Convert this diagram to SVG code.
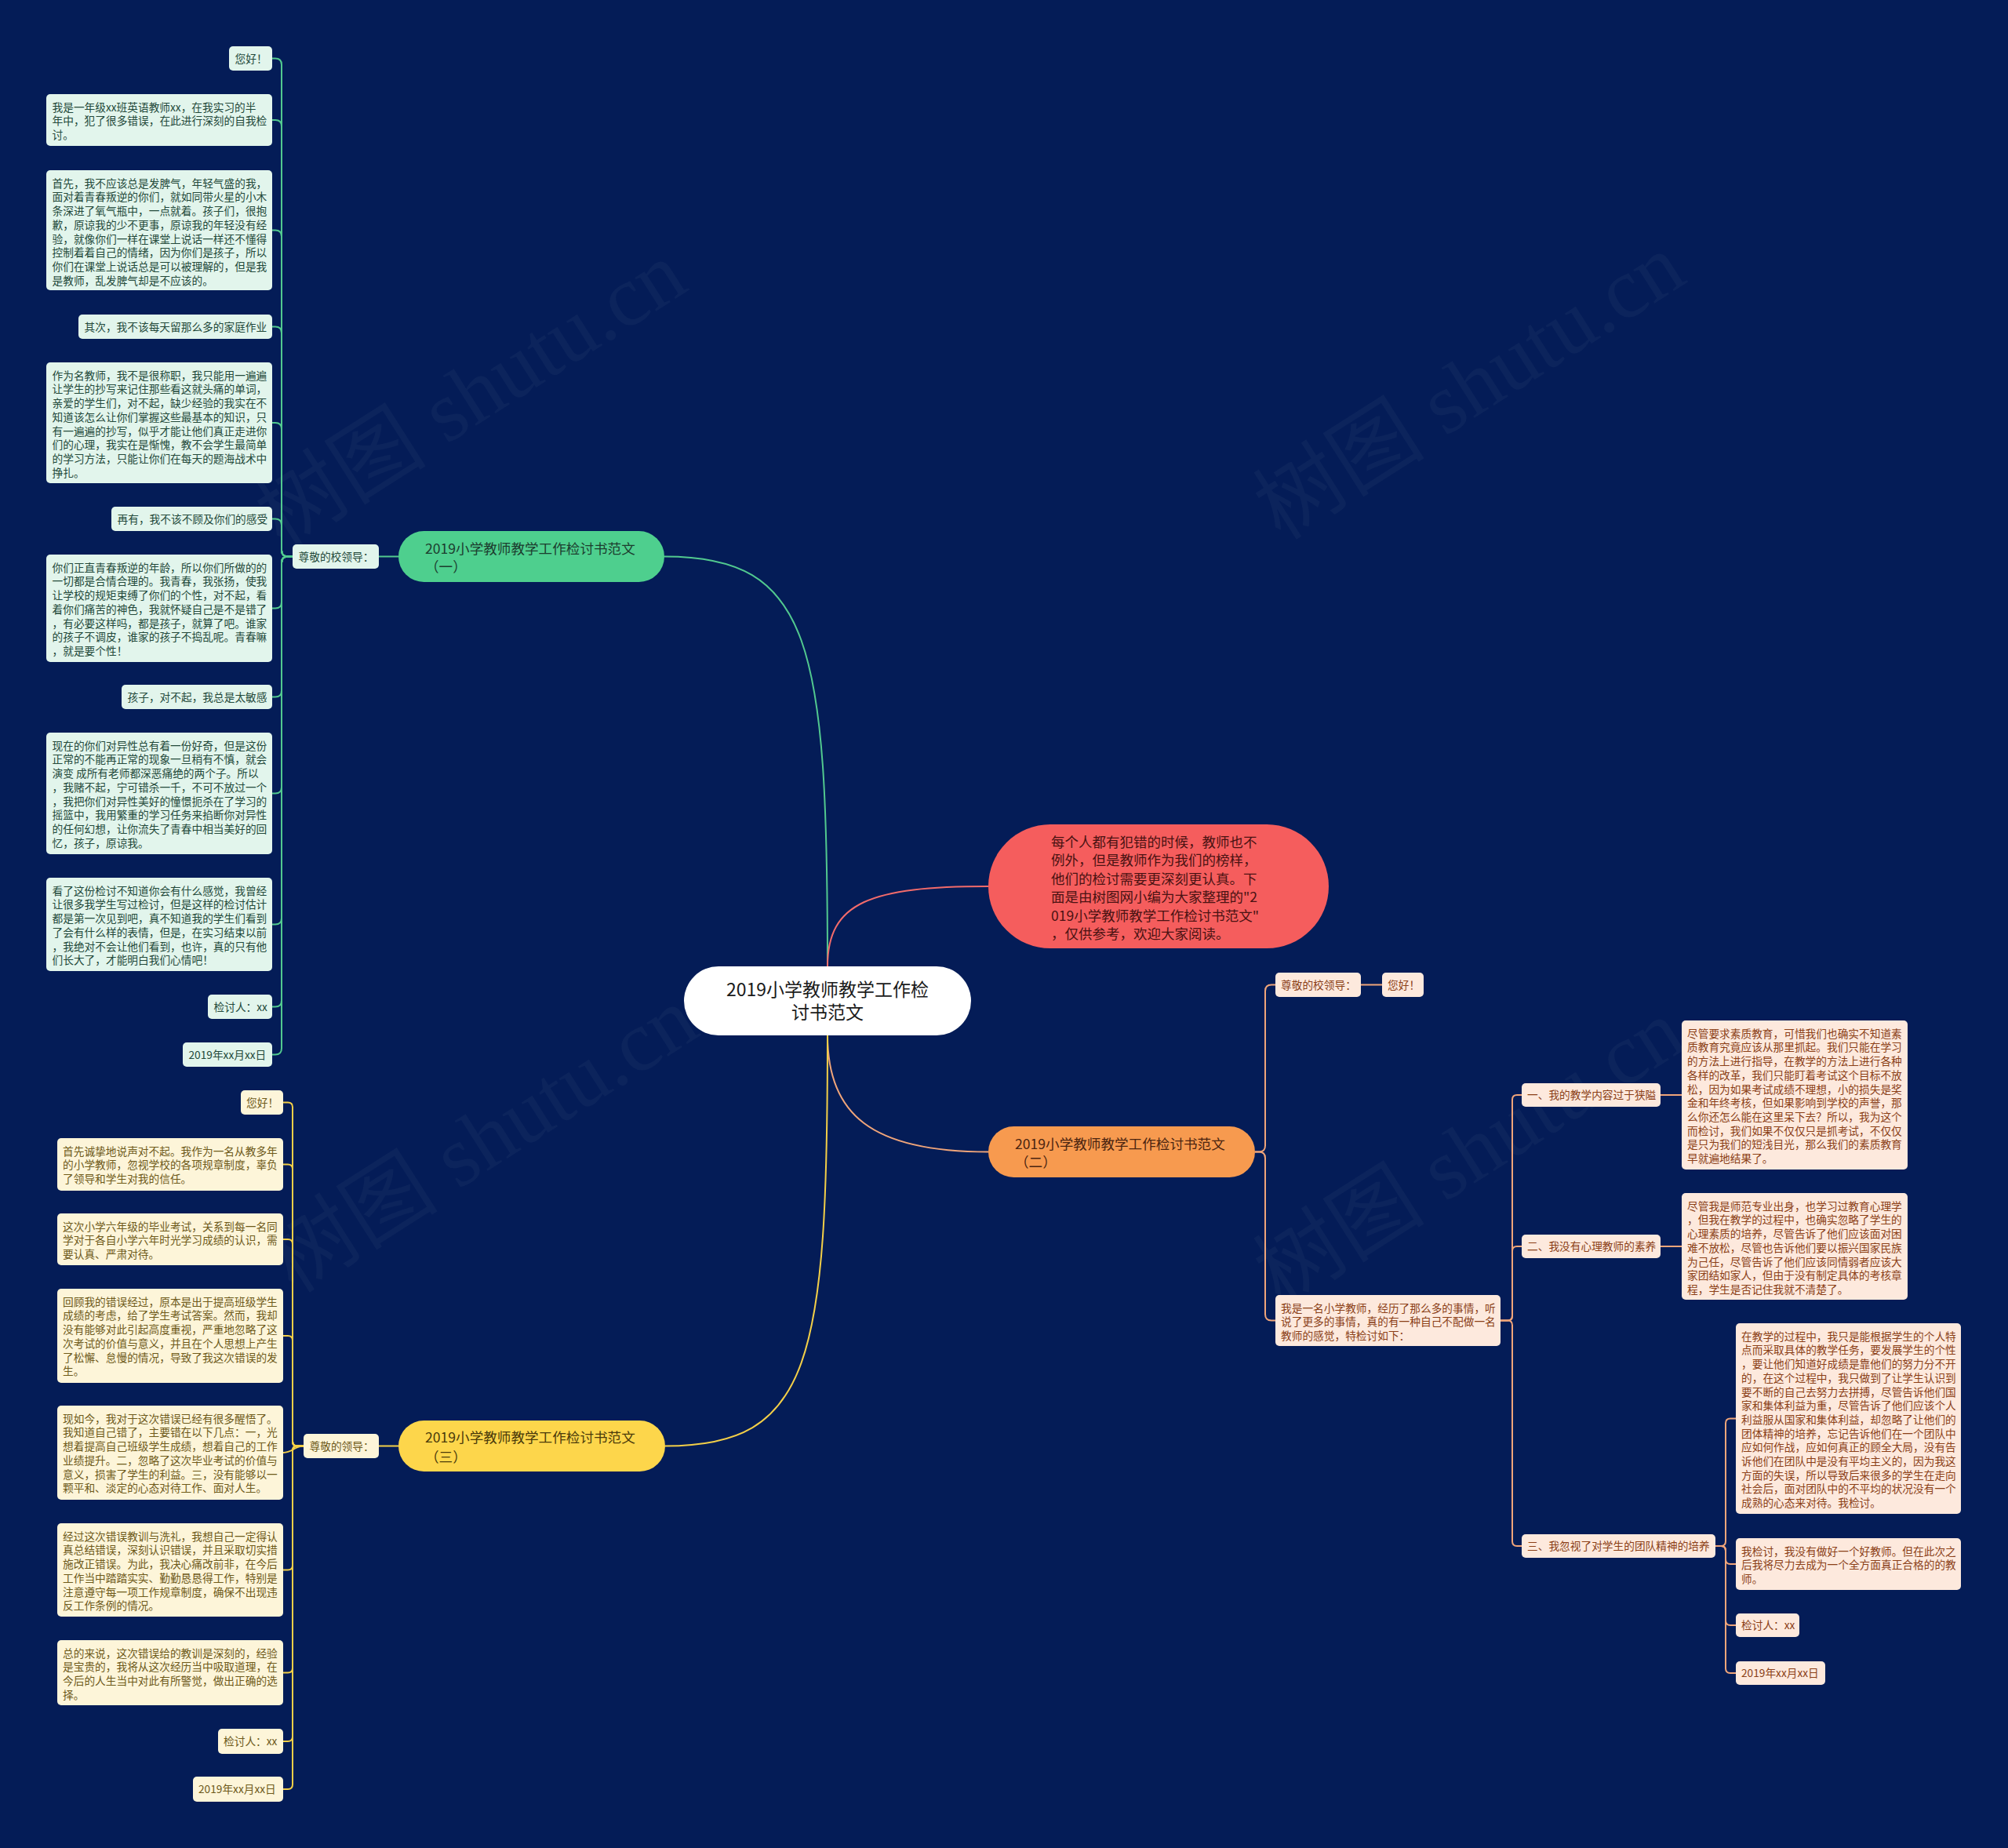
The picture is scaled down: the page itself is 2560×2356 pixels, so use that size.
<svg xmlns="http://www.w3.org/2000/svg" width="2560" height="2356" viewBox="0 0 2560 2356">
<style>
text{font-family:"Noto Sans CJK SC","Noto Sans",sans-serif}
.lt{font-size:13.7px}
.cg,.cy,.co,.cr{fill:none;stroke-width:2}
.cg{stroke:#52c98f}.cy{stroke:#f3cf48}.co{stroke:#f0a57a}.cr{stroke:#f26b6b}
.gl{fill:#e2f5ec}.gt{fill:#23493a}
.yl{fill:#fdf5d9}.yt{fill:#6e5a1a}
.ol{fill:#fde9dd}.ot{fill:#8b3f17}
.wm{font-family:"Liberation Serif","Noto Sans CJK SC",serif;font-size:110px;fill:#ffffff;fill-opacity:0.035}
.mt{font-size:17.6px}
</style>
<rect width="2560" height="2356" fill="#041c57"/>
<g id="watermarks">
<text class="wm" x="360" y="700" transform="rotate(-32.5 360 700)">树图 shutu.cn</text>
<text class="wm" x="375" y="1650" transform="rotate(-32.5 375 1650)">树图 shutu.cn</text>
<text class="wm" x="1633" y="690" transform="rotate(-32.5 1633 690)">树图 shutu.cn</text>
<text class="wm" x="1633" y="1666" transform="rotate(-32.5 1633 1666)">树图 shutu.cn</text>
</g>
<g id="connectors">
<path class="cg" d="M1055,1232 C1055,820 1035,709.5 847,709.5"/>
<path class="cr" d="M1055,1232 C1055,1150 1110,1130 1260,1130"/>
<path class="co" d="M1055,1320 C1055,1420 1110,1468.5 1260,1468.5"/>
<path class="cy" d="M1055,1320 C1055,1735 1035,1843.5 848,1843.5"/>
<path class="cg" d="M508,709.5 H483"/>
<path class="cg" d="M373,709.5 H367 Q359,709.5 359,701.5 V82.5 Q359,74.5 351,74.5 H347"/>
<path class="cg" d="M373,709.5 H367 Q359,709.5 359,701.5 V161 Q359,153 351,153 H347"/>
<path class="cg" d="M373,709.5 H367 Q359,709.5 359,701.5 V301.5 Q359,293.5 351,293.5 H347"/>
<path class="cg" d="M373,709.5 H367 Q359,709.5 359,701.5 V424.5 Q359,416.5 351,416.5 H347"/>
<path class="cg" d="M373,709.5 H367 Q359,709.5 359,701.5 V547 Q359,539 351,539 H347"/>
<path class="cg" d="M373,709.5 H367 Q359,709.5 359,701.5 V669.5 Q359,661.5 351,661.5 H347"/>
<path class="cg" d="M373,709.5 H367 Q359,709.5 359,717.5 V767.5 Q359,775.5 351,775.5 H347"/>
<path class="cg" d="M373,709.5 H367 Q359,709.5 359,717.5 V880.5 Q359,888.5 351,888.5 H347"/>
<path class="cg" d="M373,709.5 H367 Q359,709.5 359,717.5 V1003.5 Q359,1011.5 351,1011.5 H347"/>
<path class="cg" d="M373,709.5 H367 Q359,709.5 359,717.5 V1170.5 Q359,1178.5 351,1178.5 H347"/>
<path class="cg" d="M373,709.5 H367 Q359,709.5 359,717.5 V1275.5 Q359,1283.5 351,1283.5 H347"/>
<path class="cg" d="M373,709.5 H367 Q359,709.5 359,717.5 V1336.5 Q359,1344.5 351,1344.5 H347"/>
<path class="cy" d="M508,1843.5 H483"/>
<path class="cy" d="M387,1843.5 H379 Q373,1843.5 373,1837.5 V1411.5 Q373,1405.5 367,1405.5 H361"/>
<path class="cy" d="M387,1843.5 H379 Q373,1843.5 373,1837.5 V1490.5 Q373,1484.5 367,1484.5 H361"/>
<path class="cy" d="M387,1843.5 H379 Q373,1843.5 373,1837.5 V1586 Q373,1580 367,1580 H361"/>
<path class="cy" d="M387,1843.5 H379 Q373,1843.5 373,1837.5 V1709 Q373,1703 367,1703 H361"/>
<path class="cy" d="M387,1843.5 C375,1843.5 373,1852 361,1852"/>
<path class="cy" d="M387,1843.5 H379 Q373,1843.5 373,1849.5 V1995.5 Q373,2001.5 367,2001.5 H361"/>
<path class="cy" d="M387,1843.5 H379 Q373,1843.5 373,1849.5 V2126.5 Q373,2132.5 367,2132.5 H361"/>
<path class="cy" d="M387,1843.5 H379 Q373,1843.5 373,1849.5 V2214 Q373,2220 367,2220 H361"/>
<path class="cy" d="M387,1843.5 H379 Q373,1843.5 373,1849.5 V2275 Q373,2281 367,2281 H361"/>
<path class="co" d="M1600,1468.5 H1605 Q1613,1468.5 1613,1460.5 V1263.5 Q1613,1255.5 1621,1255.5 H1626"/>
<path class="co" d="M1600,1468.5 H1605 Q1613,1468.5 1613,1476.5 V1675.5 Q1613,1683.5 1621,1683.5 H1626"/>
<path class="co" d="M1735,1255.5 H1762"/>
<path class="co" d="M1913,1683.5 H1922 Q1928,1683.5 1928,1677.5 V1402 Q1928,1396 1934,1396 H1940"/>
<path class="co" d="M1913,1683.5 H1922 Q1928,1683.5 1928,1677.5 V1595 Q1928,1589 1934,1589 H1940"/>
<path class="co" d="M1913,1683.5 H1922 Q1928,1683.5 1928,1689.5 V1965 Q1928,1971 1934,1971 H1940"/>
<path class="co" d="M2117,1396 H2144"/>
<path class="co" d="M2117,1589 H2144"/>
<path class="co" d="M2187,1971 H2194 Q2200,1971 2200,1965 V1814.5 Q2200,1808.5 2206,1808.5 H2213"/>
<path class="co" d="M2187,1971 H2194 Q2200,1971 2200,1977 V1988 Q2200,1994 2206,1994 H2213"/>
<path class="co" d="M2187,1971 H2194 Q2200,1971 2200,1977 V2066 Q2200,2072 2206,2072 H2213"/>
<path class="co" d="M2187,1971 H2194 Q2200,1971 2200,1977 V2127 Q2200,2133 2206,2133 H2213"/>
</g>
<g id="center">
<rect x="872" y="1232" width="366" height="88" rx="44" fill="#ffffff"/>
<text x="1055" y="1269.8" text-anchor="middle" font-size="23" fill="#1a1a1a">2019小学教师教学工作检<tspan x="1055" dy="29">讨书范文</tspan></text>
</g>
<g id="intro">
<rect x="1260" y="1051" width="434" height="158" rx="79" fill="#f55d5d"/>
<text x="1340" y="1079.6" font-size="17.5" fill="#4a1212"><tspan x="1340">每个人都有犯错的时候，教师也不</tspan><tspan x="1340" dy="23.5">例外，但是教师作为我们的榜样，</tspan><tspan x="1340" dy="23.5">他们的检讨需要更深刻更认真。下</tspan><tspan x="1340" dy="23.5">面是由树图网小编为大家整理的"2</tspan><tspan x="1340" dy="23.5">019小学教师教学工作检讨书范文"</tspan><tspan x="1340" dy="23.5">，仅供参考，欢迎大家阅读。</tspan></text>
</g>
<g id="branch1">
<rect x="508" y="677" width="339" height="65" rx="32.5" fill="#4ecf8e"/>
<text class="mt" x="542" y="705.7" fill="#1c3d2e"><tspan x="542">2019小学教师教学工作检讨书范文</tspan><tspan x="542" dy="23">（一）</tspan></text>
</g>
<g id="b1-greet"><rect class="gl" x="373" y="694" width="110" height="31" rx="5"/><text class="lt gt" x="380.5" y="714.7">尊敬的校领导：</text></g>
<g id="b1-l1"><rect class="gl" x="292" y="59" width="55" height="31" rx="5"/><text class="lt gt" x="299.5" y="79.7">您好！</text></g>
<g id="b1-l2"><rect class="gl" x="59" y="120" width="288" height="66" rx="5"/><text class="lt gt" x="66.5" y="141.7"><tspan x="66.5">我是一年级xx班英语教师xx，在我实习的半</tspan><tspan x="66.5" dy="17.7">年中，犯了很多错误，在此进行深刻的自我检</tspan><tspan x="66.5" dy="17.7">讨。</tspan></text></g>
<g id="b1-l3"><rect class="gl" x="59" y="217" width="288" height="153" rx="5"/><text class="lt gt" x="66.5" y="238.7"><tspan x="66.5">首先，我不应该总是发脾气，年轻气盛的我，</tspan><tspan x="66.5" dy="17.7">面对着青春叛逆的你们，就如同带火星的小木</tspan><tspan x="66.5" dy="17.7">条深进了氧气瓶中，一点就着。孩子们，很抱</tspan><tspan x="66.5" dy="17.7">歉，原谅我的少不更事，原谅我的年轻没有经</tspan><tspan x="66.5" dy="17.7">验，就像你们一样在课堂上说话一样还不懂得</tspan><tspan x="66.5" dy="17.7">控制着着自己的情绪，因为你们是孩子，所以</tspan><tspan x="66.5" dy="17.7">你们在课堂上说话总是可以被理解的，但是我</tspan><tspan x="66.5" dy="17.7">是教师，乱发脾气却是不应该的。</tspan></text></g>
<g id="b1-l4"><rect class="gl" x="100" y="401" width="247" height="31" rx="5"/><text class="lt gt" x="107.5" y="421.7">其次，我不该每天留那么多的家庭作业</text></g>
<g id="b1-l5"><rect class="gl" x="59" y="462" width="288" height="154" rx="5"/><text class="lt gt" x="66.5" y="483.7"><tspan x="66.5">作为名教师，我不是很称职，我只能用一遍遍</tspan><tspan x="66.5" dy="17.7">让学生的抄写来记住那些看这就头痛的单词，</tspan><tspan x="66.5" dy="17.7">亲爱的学生们，对不起，缺少经验的我实在不</tspan><tspan x="66.5" dy="17.7">知道该怎么让你们掌握这些最基本的知识，只</tspan><tspan x="66.5" dy="17.7">有一遍遍的抄写，似乎才能让他们真正走进你</tspan><tspan x="66.5" dy="17.7">们的心理，我实在是惭愧，教不会学生最简单</tspan><tspan x="66.5" dy="17.7">的学习方法，只能让你们在每天的题海战术中</tspan><tspan x="66.5" dy="17.7">挣扎。</tspan></text></g>
<g id="b1-l6"><rect class="gl" x="142" y="646" width="205" height="31" rx="5"/><text class="lt gt" x="149.5" y="666.7">再有，我不该不顾及你们的感受</text></g>
<g id="b1-l7"><rect class="gl" x="59" y="707" width="288" height="137" rx="5"/><text class="lt gt" x="66.5" y="728.7"><tspan x="66.5">你们正直青春叛逆的年龄，所以你们所做的的</tspan><tspan x="66.5" dy="17.7">一切都是合情合理的。我青春，我张扬，使我</tspan><tspan x="66.5" dy="17.7">让学校的规矩束缚了你们的个性，对不起，看</tspan><tspan x="66.5" dy="17.7">着你们痛苦的神色，我就怀疑自己是不是错了</tspan><tspan x="66.5" dy="17.7">，有必要这样吗，都是孩子，就算了吧。谁家</tspan><tspan x="66.5" dy="17.7">的孩子不调皮，谁家的孩子不捣乱呢。青春嘛</tspan><tspan x="66.5" dy="17.7">，就是要个性！</tspan></text></g>
<g id="b1-l8"><rect class="gl" x="155" y="873" width="192" height="31" rx="5"/><text class="lt gt" x="162.5" y="893.7">孩子，对不起，我总是太敏感</text></g>
<g id="b1-l9"><rect class="gl" x="59" y="934" width="288" height="155" rx="5"/><text class="lt gt" x="66.5" y="955.7"><tspan x="66.5">现在的你们对异性总有着一份好奇，但是这份</tspan><tspan x="66.5" dy="17.7">正常的不能再正常的现象一旦稍有不慎，就会</tspan><tspan x="66.5" dy="17.7">演变 成所有老师都深恶痛绝的两个子。所以</tspan><tspan x="66.5" dy="17.7">，我赌不起，宁可错杀一千，不可不放过一个</tspan><tspan x="66.5" dy="17.7">，我把你们对异性美好的憧憬扼杀在了学习的</tspan><tspan x="66.5" dy="17.7">摇篮中，我用繁重的学习任务来掐断你对异性</tspan><tspan x="66.5" dy="17.7">的任何幻想，让你流失了青春中相当美好的回</tspan><tspan x="66.5" dy="17.7">忆，孩子，原谅我。</tspan></text></g>
<g id="b1-l10"><rect class="gl" x="59" y="1119" width="288" height="119" rx="5"/><text class="lt gt" x="66.5" y="1140.7"><tspan x="66.5">看了这份检讨不知道你会有什么感觉，我曾经</tspan><tspan x="66.5" dy="17.7">让很多我学生写过检讨，但是这样的检讨估计</tspan><tspan x="66.5" dy="17.7">都是第一次见到吧，真不知道我的学生们看到</tspan><tspan x="66.5" dy="17.7">了会有什么样的表情，但是，在实习结束以前</tspan><tspan x="66.5" dy="17.7">，我绝对不会让他们看到，也许，真的只有他</tspan><tspan x="66.5" dy="17.7">们长大了，才能明白我们心情吧！</tspan></text></g>
<g id="b1-l11"><rect class="gl" x="265" y="1268" width="82" height="31" rx="5"/><text class="lt gt" x="272.5" y="1288.7">检讨人：xx</text></g>
<g id="b1-l12"><rect class="gl" x="233" y="1329" width="114" height="31" rx="5"/><text class="lt gt" x="240.5" y="1349.7">2019年xx月xx日</text></g>
<g id="branch3">
<rect x="508" y="1811" width="340" height="65" rx="32.5" fill="#fdd64b"/>
<text class="mt" x="542" y="1838.7" fill="#4a3a0a"><tspan x="542">2019小学教师教学工作检讨书范文</tspan><tspan x="542" dy="25">（三）</tspan></text>
</g>
<g id="b3-greet"><rect class="yl" x="387" y="1828" width="96" height="31" rx="5"/><text class="lt yt" x="394.5" y="1848.7">尊敬的领导：</text></g>
<g id="b3-l1"><rect class="yl" x="307" y="1390" width="54" height="31" rx="5"/><text class="lt yt" x="314" y="1410.7">您好！</text></g>
<g id="b3-l2"><rect class="yl" x="73" y="1451" width="288" height="67" rx="5"/><text class="lt yt" x="80" y="1472.7"><tspan x="80">首先诚挚地说声对不起。我作为一名从教多年</tspan><tspan x="80" dy="17.7">的小学教师，忽视学校的各项规章制度，辜负</tspan><tspan x="80" dy="17.7">了领导和学生对我的信任。</tspan></text></g>
<g id="b3-l3"><rect class="yl" x="73" y="1547" width="288" height="66" rx="5"/><text class="lt yt" x="80" y="1568.7"><tspan x="80">这次小学六年级的毕业考试，关系到每一名同</tspan><tspan x="80" dy="17.7">学对于各自小学六年时光学习成绩的认识，需</tspan><tspan x="80" dy="17.7">要认真、严肃对待。</tspan></text></g>
<g id="b3-l4"><rect class="yl" x="73" y="1643" width="288" height="120" rx="5"/><text class="lt yt" x="80" y="1664.7"><tspan x="80">回顾我的错误经过，原本是出于提高班级学生</tspan><tspan x="80" dy="17.7">成绩的考虑，给了学生考试答案。然而，我却</tspan><tspan x="80" dy="17.7">没有能够对此引起高度重视，严重地忽略了这</tspan><tspan x="80" dy="17.7">次考试的价值与意义，并且在个人思想上产生</tspan><tspan x="80" dy="17.7">了松懈、怠慢的情况，导致了我这次错误的发</tspan><tspan x="80" dy="17.7">生。</tspan></text></g>
<g id="b3-l5"><rect class="yl" x="73" y="1792" width="288" height="120" rx="5"/><text class="lt yt" x="80" y="1813.7"><tspan x="80">现如今，我对于这次错误已经有很多醒悟了。</tspan><tspan x="80" dy="17.7">我知道自己错了，主要错在以下几点：一，光</tspan><tspan x="80" dy="17.7">想着提高自己班级学生成绩，想着自己的工作</tspan><tspan x="80" dy="17.7">业绩提升。二，忽略了这次毕业考试的价值与</tspan><tspan x="80" dy="17.7">意义，损害了学生的利益。三，没有能够以一</tspan><tspan x="80" dy="17.7">颗平和、淡定的心态对待工作、面对人生。</tspan></text></g>
<g id="b3-l6"><rect class="yl" x="73" y="1942" width="288" height="119" rx="5"/><text class="lt yt" x="80" y="1963.7"><tspan x="80">经过这次错误教训与洗礼，我想自己一定得认</tspan><tspan x="80" dy="17.7">真总结错误，深刻认识错误，并且采取切实措</tspan><tspan x="80" dy="17.7">施改正错误。为此，我决心痛改前非，在今后</tspan><tspan x="80" dy="17.7">工作当中踏踏实实、勤勤恳恳得工作，特别是</tspan><tspan x="80" dy="17.7">注意遵守每一项工作规章制度，确保不出现违</tspan><tspan x="80" dy="17.7">反工作条例的情况。</tspan></text></g>
<g id="b3-l7"><rect class="yl" x="73" y="2091" width="288" height="83" rx="5"/><text class="lt yt" x="80" y="2112.7"><tspan x="80">总的来说，这次错误给的教训是深刻的，经验</tspan><tspan x="80" dy="17.7">是宝贵的，我将从这次经历当中吸取道理，在</tspan><tspan x="80" dy="17.7">今后的人生当中对此有所警觉，做出正确的选</tspan><tspan x="80" dy="17.7">择。</tspan></text></g>
<g id="b3-l8"><rect class="yl" x="278" y="2204" width="83" height="32" rx="5"/><text class="lt yt" x="285" y="2225.2">检讨人：xx</text></g>
<g id="b3-l9"><rect class="yl" x="246" y="2265" width="115" height="32" rx="5"/><text class="lt yt" x="253" y="2286.2">2019年xx月xx日</text></g>
<g id="branch2">
<rect x="1260" y="1436" width="340" height="65" rx="32.5" fill="#f79a4f"/>
<text class="mt" x="1294" y="1464.7" fill="#4a2410"><tspan x="1294">2019小学教师教学工作检讨书范文</tspan><tspan x="1294" dy="23">（二）</tspan></text>
</g>
<g id="b2-greet"><rect class="ol" x="1626" y="1240" width="109" height="31" rx="5"/><text class="lt ot" x="1633" y="1260.7">尊敬的校领导：</text></g>
<g id="b2-hello"><rect class="ol" x="1762" y="1240" width="53" height="31" rx="5"/><text class="lt ot" x="1769" y="1260.7">您好！</text></g>
<g id="b2-intro"><rect class="ol" x="1626" y="1651" width="287" height="65" rx="5"/><text class="lt ot" x="1633" y="1672.7"><tspan x="1633">我是一名小学教师，经历了那么多的事情，听</tspan><tspan x="1633" dy="17.7">说了更多的事情，真的有一种自己不配做一名</tspan><tspan x="1633" dy="17.7">教师的感觉，特检讨如下：</tspan></text></g>
<g id="b2-p1"><rect class="ol" x="1940" y="1381" width="177" height="30" rx="5"/><text class="lt ot" x="1947" y="1401.2">一、我的教学内容过于狭隘</text></g>
<g id="b2-p1c"><rect class="ol" x="2144" y="1301" width="288" height="190" rx="5"/><text class="lt ot" x="2151" y="1322.7"><tspan x="2151">尽管要求素质教育，可惜我们也确实不知道素</tspan><tspan x="2151" dy="17.7">质教育究竟应该从那里抓起。我们只能在学习</tspan><tspan x="2151" dy="17.7">的方法上进行指导，在教学的方法上进行各种</tspan><tspan x="2151" dy="17.7">各样的改革，我们只能盯着考试这个目标不放</tspan><tspan x="2151" dy="17.7">松，因为如果考试成绩不理想，小的损失是奖</tspan><tspan x="2151" dy="17.7">金和年终考核，但如果影响到学校的声誉，那</tspan><tspan x="2151" dy="17.7">么你还怎么能在这里呆下去？所以，我为这个</tspan><tspan x="2151" dy="17.7">而检讨，我们如果不仅仅只是抓考试，不仅仅</tspan><tspan x="2151" dy="17.7">是只为我们的短浅目光，那么我们的素质教育</tspan><tspan x="2151" dy="17.7">早就遍地结果了。</tspan></text></g>
<g id="b2-p2"><rect class="ol" x="1940" y="1574" width="177" height="30" rx="5"/><text class="lt ot" x="1947" y="1594.2">二、我没有心理教师的素养</text></g>
<g id="b2-p2c"><rect class="ol" x="2144" y="1521" width="288" height="136" rx="5"/><text class="lt ot" x="2151" y="1542.7"><tspan x="2151">尽管我是师范专业出身，也学习过教育心理学</tspan><tspan x="2151" dy="17.7">，但我在教学的过程中，也确实忽略了学生的</tspan><tspan x="2151" dy="17.7">心理素质的培养，尽管告诉了他们应该面对困</tspan><tspan x="2151" dy="17.7">难不放松，尽管也告诉他们要以振兴国家民族</tspan><tspan x="2151" dy="17.7">为己任，尽管告诉了他们应该同情弱者应该大</tspan><tspan x="2151" dy="17.7">家团结如家人，但由于没有制定具体的考核章</tspan><tspan x="2151" dy="17.7">程，学生是否记住我就不清楚了。</tspan></text></g>
<g id="b2-p3"><rect class="ol" x="1940" y="1956" width="247" height="30" rx="5"/><text class="lt ot" x="1947" y="1976.2">三、我忽视了对学生的团队精神的培养</text></g>
<g id="b2-p3a"><rect class="ol" x="2213" y="1687" width="287" height="243" rx="5"/><text class="lt ot" x="2220" y="1708.7"><tspan x="2220">在教学的过程中，我只是能根据学生的个人特</tspan><tspan x="2220" dy="17.7">点而采取具体的教学任务，要发展学生的个性</tspan><tspan x="2220" dy="17.7">，要让他们知道好成绩是靠他们的努力分不开</tspan><tspan x="2220" dy="17.7">的，在这个过程中，我只做到了让学生认识到</tspan><tspan x="2220" dy="17.7">要不断的自己去努力去拼搏，尽管告诉他们国</tspan><tspan x="2220" dy="17.7">家和集体利益为重，尽管告诉了他们应该个人</tspan><tspan x="2220" dy="17.7">利益服从国家和集体利益，却忽略了让他们的</tspan><tspan x="2220" dy="17.7">团体精神的培养，忘记告诉他们在一个团队中</tspan><tspan x="2220" dy="17.7">应如何作战，应如何真正的顾全大局，没有告</tspan><tspan x="2220" dy="17.7">诉他们在团队中是没有平均主义的，因为我这</tspan><tspan x="2220" dy="17.7">方面的失误，所以导致后来很多的学生在走向</tspan><tspan x="2220" dy="17.7">社会后，面对团队中的不平均的状况没有一个</tspan><tspan x="2220" dy="17.7">成熟的心态来对待。我检讨。</tspan></text></g>
<g id="b2-p3b"><rect class="ol" x="2213" y="1961" width="287" height="66" rx="5"/><text class="lt ot" x="2220" y="1982.7"><tspan x="2220">我检讨，我没有做好一个好教师。但在此次之</tspan><tspan x="2220" dy="17.7">后我将尽力去成为一个全方面真正合格的的教</tspan><tspan x="2220" dy="17.7">师。</tspan></text></g>
<g id="b2-p3c"><rect class="ol" x="2213" y="2057" width="81" height="30" rx="5"/><text class="lt ot" x="2220" y="2077.2">检讨人：xx</text></g>
<g id="b2-p3d"><rect class="ol" x="2213" y="2118" width="114" height="30" rx="5"/><text class="lt ot" x="2220" y="2138.2">2019年xx月xx日</text></g>
</svg>
